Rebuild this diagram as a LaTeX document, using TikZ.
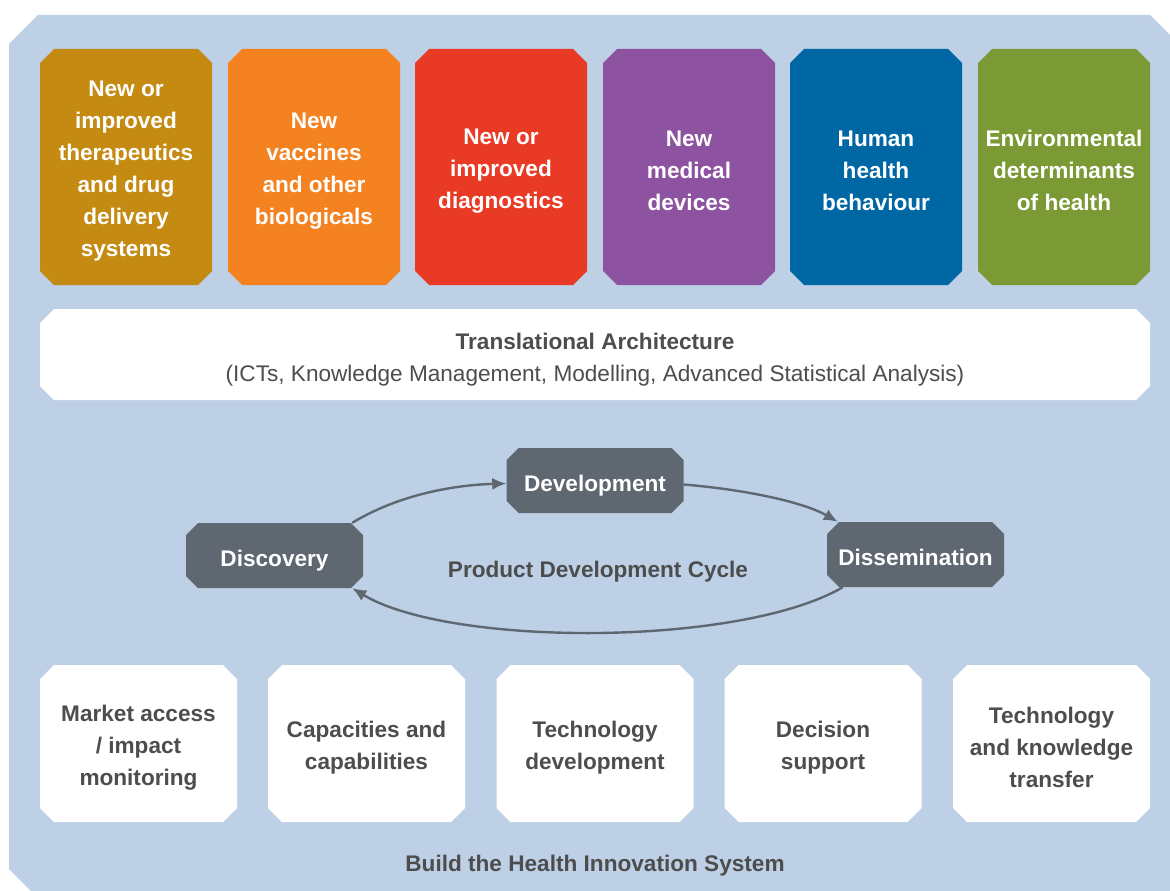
\documentclass[tikz,border=0pt]{standalone}
\usepackage{fontspec}
\setmainfont{Liberation Sans}
\usetikzlibrary{arrows.meta}
\definecolor{panel}{HTML}{BDD0E6}
\definecolor{cgold}{HTML}{C48A11}
\definecolor{corange}{HTML}{F58220}
\definecolor{cred}{HTML}{E93A25}
\definecolor{cpurple}{HTML}{8E53A0}
\definecolor{cblue}{HTML}{0067A5}
\definecolor{cgreen}{HTML}{7B9A36}
\definecolor{cgrey}{HTML}{5F6770}
\definecolor{tgrey}{HTML}{4D4D4D}
\newcommand\firstup[1]{\rule{0pt}{#1}}
\begin{document}
\begin{tikzpicture}[x=1pt,y=-1pt,
  chfill/.style 2 args={path picture={\fill[#1]
      ([xshift=#2]path picture bounding box.north west) --
      ([xshift=-#2]path picture bounding box.north east) --
      ([yshift=-#2]path picture bounding box.north east) --
      ([yshift=#2]path picture bounding box.south east) --
      ([xshift=-#2]path picture bounding box.south east) --
      ([xshift=#2]path picture bounding box.south west) --
      ([yshift=#2]path picture bounding box.south west) --
      ([yshift=-#2]path picture bounding box.north west) -- cycle;}},
  txt/.style={inner sep=0pt, align=center},
  oneline/.style={inner sep=0pt,
      execute at begin node={\rule{0pt}{#1}},
      execute at end node={\rule[-5pt]{0pt}{5pt}}},
  topbox/.style={txt, chfill={#1}{14pt}, minimum width=172pt, minimum height=236pt, text=white, font=\bfseries\fontsize{22.6}{32}\selectfont},
  botbox/.style={txt, chfill={white}{14pt}, minimum width=197pt, minimum height=157pt, text=tgrey, font=\bfseries\fontsize{22.6}{32}\selectfont},
  cycnode/.style={oneline=27pt, chfill={cgrey}{12pt}, text=white, minimum width=177pt, minimum height=65pt, font=\bfseries\fontsize{22.6}{26}\selectfont},
  cycarrow/.style={draw=cgrey, line width=2.4pt, -{Latex[length=14pt,width=12pt]}},
  label/.style={oneline=23pt, text=tgrey, font=\bfseries\fontsize{22.6}{26}\selectfont}
]
\clip (0,0) rectangle (1170,891);
\fill[white] (0,0) rectangle (1170,891);
\fill[panel] (9,44) -- (38,15) -- (1150,15) -- (1185,50) -- (1185,900) -- (40,900) -- (9,869) -- cycle;

\node[topbox=cgold]   (t1) at (126,167)  {\firstup{24pt}New or\\improved\\therapeutics\\and drug\\delivery\\systems};
\node[topbox=corange] (t2) at (314,167)  {\firstup{24pt}New\\vaccines\\and other\\biologicals};
\node[topbox=cred]    (t3) at (501,167)  {\firstup{23pt}New or\\improved\\diagnostics};
\node[topbox=cpurple] (t4) at (689,167)  {\firstup{23pt}New\\medical\\devices};
\node[topbox=cblue]   (t5) at (876,167)  {\firstup{23pt}Human\\health\\behaviour};
\node[topbox=cgreen]  (t6) at (1064,167) {\firstup{23pt}Environmental\\determinants\\of health};

\node[txt, chfill={white}{14pt}, minimum width=1110pt, minimum height=91pt, text=tgrey, font=\fontsize{22.6}{32}\selectfont] (trans) at (595,354.5)
  {\firstup{26pt}\textbf{Translational Architecture}\\(ICTs, Knowledge Management, Modelling, Advanced Statistical Analysis)};

\node[cycnode] (dev)  at (595,480.5)   {Development};
\node[cycnode] (disc) at (274.5,555.5) {Discovery};
\node[cycnode] (diss) at (915.5,554.5) {Dissemination};
\node[label] (cyc) at (598,568) {Product Development Cycle};

\draw[cycarrow] ([xshift=-11pt]disc.north east) .. controls (400,494) and (455,485) .. ([yshift=-3pt]dev.west);
\draw[cycarrow] ([yshift=-4pt]dev.east) .. controls (750,490) and (805,503) .. ([xshift=11pt]diss.north west);
\draw[cycarrow] ([xshift=16pt]diss.south west) .. controls (740,647) and (450,647) .. ([xshift=-11pt]disc.south east);

\node[botbox] (b1) at (138.5,743.5) {\firstup{24pt}Market access\\/ impact\\monitoring};
\node[botbox] (b2) at (366.5,743.5) {\firstup{24pt}Capacities and\\capabilities};
\node[botbox] (b3) at (595,743.5)   {\firstup{24pt}Technology\\development};
\node[botbox] (b4) at (823,743.5)   {\firstup{24pt}Decision\\support};
\node[botbox] (b5) at (1051.5,743.5) {\firstup{24pt}Technology\\and knowledge\\transfer};

\node[label] (build) at (595,862) {Build the Health Innovation System};
\end{tikzpicture}
\end{document}
